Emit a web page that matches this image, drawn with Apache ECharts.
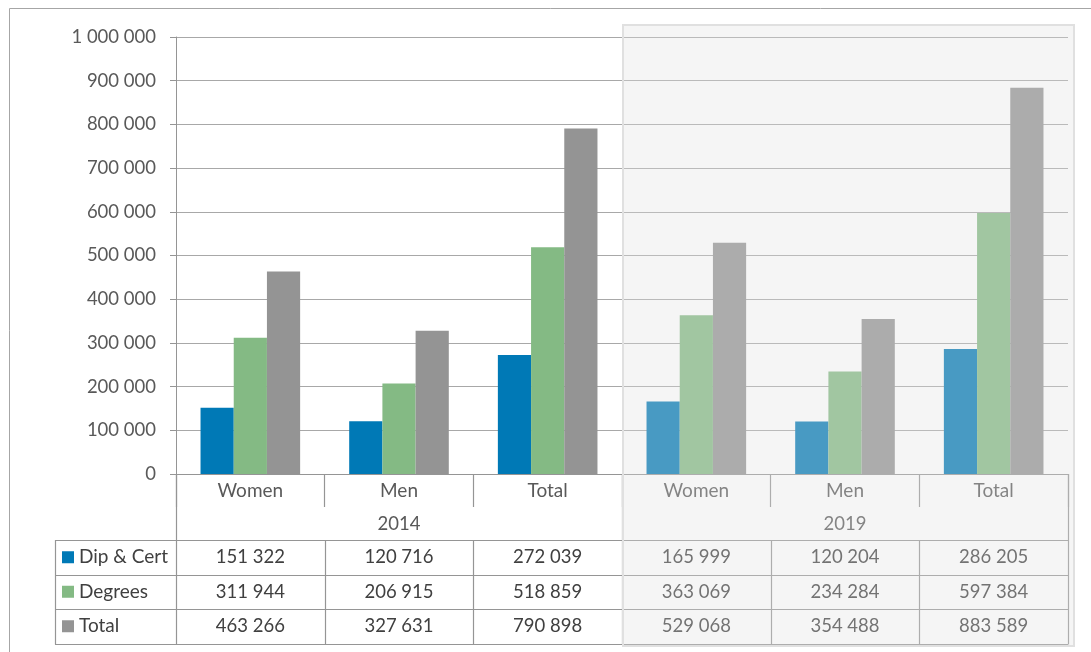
<!DOCTYPE html>
<html><head><meta charset="utf-8">
<script src="https://cdn.jsdelivr.net/npm/echarts@6/dist/echarts.min.js"></script>
<style>html,body{margin:0;padding:0;background:#fff}#c{width:1091px;height:652px}</style>
</head><body><div id="c"></div>
<script>
const categories = ['Women', 'Men', 'Total', 'Women', 'Men', 'Total'];
const years = ['2014', '2019'];
const seriesNames = ['Dip & Cert', 'Degrees', 'Total'];
const dipCert = [151322, 120716, 272039, 165999, 120204, 286205];
const degrees = [311944, 206915, 518859, 363069, 234284, 597384];
const totals = [463266, 327631, 790898, 529068, 354488, 883589];
const colors = ['#0079b6', '#84ba84', '#949494'];

const seriesData = [dipCert, degrees, totals];
const FONT = 'Lato';
const W = 1091, H = 652;
const L = 176, R = 1068, T = 37, B = 474;
const colW = (R - L) / 6;
const rowTop = 540, rowH = 34.5, tableLeft = 55;
const lineCol = '#959595', textCol = '#404040', axisText = '#595959';

function fmt(v) { return String(v).replace(/\B(?=(\d{3})+(?!\d))/g, ' '); }

const chart = echarts.init(document.getElementById('c'), null, {renderer: 'canvas'});

const graphic = [];
// outer frame
graphic.push({type: 'line', shape: {x1: 9.5, y1: 8.5, x2: W, y2: 8.5}, style: {stroke: '#a6a6a6', lineWidth: 1}, z: 100});
graphic.push({type: 'line', shape: {x1: 9.5, y1: 8.5, x2: 9.5, y2: H}, style: {stroke: '#a6a6a6', lineWidth: 1}, z: 100});
// table horizontal lines
for (let r = 0; r <= 3; r++) {
  const y = Math.round(rowTop + r * rowH) + 0.5;
  graphic.push({type: 'line', shape: {x1: tableLeft, y1: y, x2: R, y2: y}, style: {stroke: lineCol, lineWidth: 1.2}, z: 100});
}
// table vertical lines
const yBottom = Math.round(rowTop + 3 * rowH) + 0.5;
graphic.push({type: 'line', shape: {x1: tableLeft + 0.5, y1: rowTop, x2: tableLeft + 0.5, y2: yBottom}, style: {stroke: lineCol, lineWidth: 1.2}, z: 100});
for (let k = 0; k <= 6; k++) {
  const x = Math.round(L + k * colW) + 0.5;
  const full = (k === 0 || k === 3 || k === 6);
  graphic.push({type: 'line', shape: {x1: x, y1: full ? B : rowTop, x2: x, y2: yBottom}, style: {stroke: lineCol, lineWidth: 1.2}, z: 100});
}
// year labels
years.forEach((yr, i) => {
  graphic.push({type: 'text', x: L + (1.5 + 3 * i) * colW, y: 524, style: {text: yr, font: '18.5px ' + FONT, fill: axisText, align: 'center', verticalAlign: 'middle'}, z: 100});
});
// row labels + values
seriesNames.forEach((name, r) => {
  const cy = rowTop + (r + 0.5) * rowH;
  graphic.push({type: 'rect', shape: {x: 62, y: cy - 6, width: 12, height: 12}, style: {fill: colors[r]}, z: 100});
  graphic.push({type: 'text', x: 79, y: cy, style: {text: name, font: '19px ' + FONT, fill: textCol, align: 'left', verticalAlign: 'middle'}, z: 100});
  seriesData[r].forEach((v, c) => {
    graphic.push({type: 'text', x: L + (c + 0.5) * colW, y: cy, style: {text: fmt(v), font: '18.5px ' + FONT, fill: textCol, align: 'center', verticalAlign: 'middle'}, z: 100});
  });
});
// 2019 overlay
graphic.push({type: 'rect', shape: {x: L + 3 * colW + 1, y: 25, width: 451, height: 621}, style: {fill: 'rgba(223,223,223,0.32)', stroke: '#e0e0e0', lineWidth: 2}, z: 200});

chart.setOption({
  animation: false,
  backgroundColor: '#fff',
  textStyle: {fontFamily: FONT},
  grid: {left: L, right: W - R, top: T, bottom: H - B, containLabel: false},
  legend: {show: false},
  xAxis: {
    type: 'category', data: categories, boundaryGap: true,
    axisLine: {show: true, lineStyle: {color: lineCol, width: 1.2}},
    axisTick: {show: true, length: 33, lineStyle: {color: lineCol, width: 1.2}},
    axisLabel: {color: axisText, fontSize: 19, fontFamily: FONT, margin: 7, interval: 0},
    splitLine: {show: false}
  },
  yAxis: {
    type: 'value', min: 0, max: 1000000, interval: 100000,
    axisLine: {show: true, lineStyle: {color: lineCol}},
    axisTick: {show: true, length: 6, inside: false, lineStyle: {color: lineCol}},
    axisLabel: {color: axisText, fontSize: 18.5, fontFamily: FONT, margin: 20, formatter: v => fmt(v)},
    splitLine: {show: true, lineStyle: {color: '#a8a8a8', width: 1.2}}
  },
  series: seriesNames.map((name, i) => ({
    name: name, type: 'bar', data: seriesData[i],
    itemStyle: {color: colors[i]},
    barGap: '0%', barCategoryGap: '33%'
  })),
  graphic: graphic
});
</script></body></html>
